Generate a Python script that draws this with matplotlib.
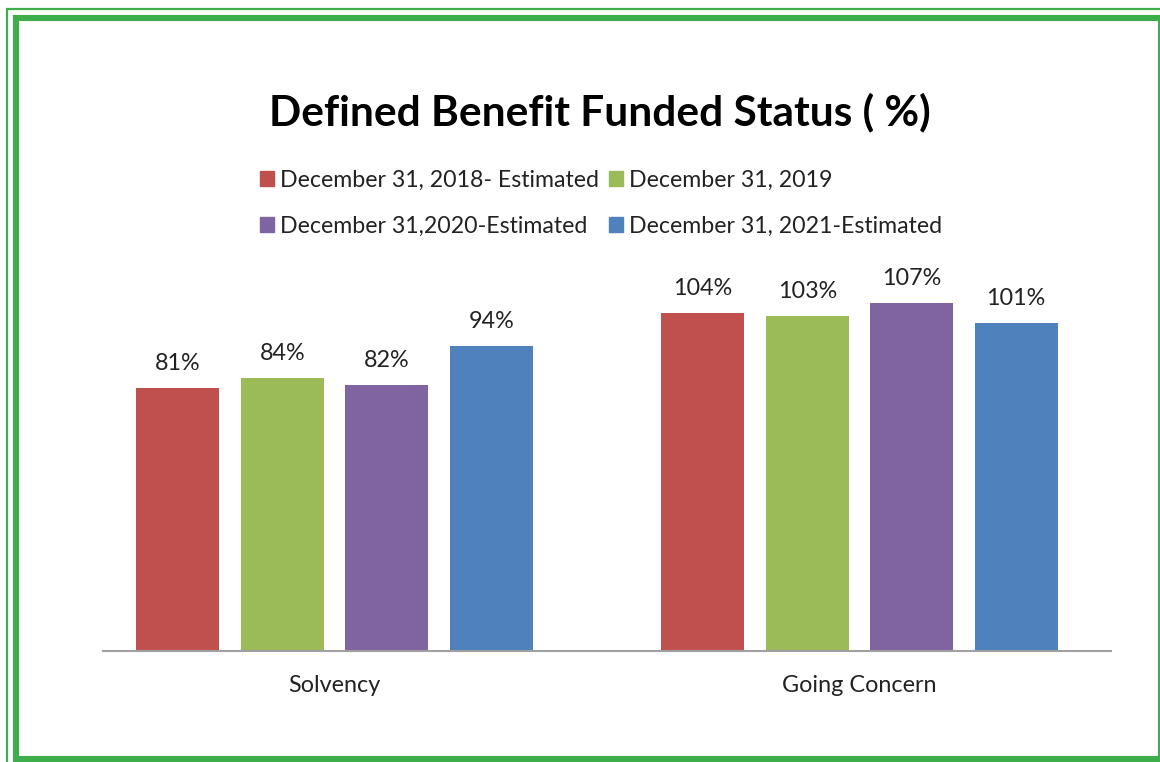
import matplotlib.pyplot as plt
from matplotlib.patches import Rectangle, Patch

categories = ['Solvency', 'Going Concern']
series_names = ['December 31, 2018- Estimated', 'December 31, 2019',
                'December 31,2020-Estimated', 'December 31, 2021-Estimated']
values_2018 = [81, 104]
values_2019 = [84, 103]
values_2020 = [82, 107]
values_2021 = [94, 101]
colors = ['#C0504D', '#9BBB59', '#8064A2', '#4F81BD']

plt.rcParams['font.family'] = ['Lato', 'DejaVu Sans']

W, H = 1160, 762
fig = plt.figure(figsize=(W / 100, H / 100), dpi=100)

# axes placed in pixel terms: baseline at y=651, 3.25 px per percent
ymax = 120
bottom_px = 651
top_px = bottom_px - 3.25 * ymax
ax = fig.add_axes([103 / W, 1 - bottom_px / H, (1111 - 103) / W, (bottom_px - top_px) / H])

all_series = [values_2018, values_2019, values_2020, values_2021]
step = 104.5 / 525
width = 83 / 525
x = list(range(len(categories)))
for i, vals in enumerate(all_series):
    off = (i - 1.5) * step
    b = ax.bar([xi + off for xi in x], vals, width=width, color=colors[i], label=series_names[i])
    ax.bar_label(b, labels=[f'{v}%' for v in vals], padding=10, fontsize=16.8, color='#222222')

ax.set_xlim(-231.5 / 525, 776.5 / 525)
ax.set_ylim(0, ymax)
for s in ['top', 'right', 'left']:
    ax.spines[s].set_visible(False)
ax.spines['bottom'].set_color('#a0a0a0')
ax.spines['bottom'].set_linewidth(1.5)
ax.set_yticks([])
ax.set_xticks(x)
ax.set_xticklabels(categories, fontsize=16.8, color='#222222')
ax.tick_params(axis='x', length=0, pad=17.5)

fig.text(600 / W, 1 - 112 / H, 'Defined Benefit Funded Status ( %)', ha='center', va='center',
         fontsize=30.5, fontweight='bold', color='black')

# legend: column-first order so rows read 2018,2019 / 2020,2021
order = [0, 2, 1, 3]
handles = [Patch(color=colors[i]) for i in order]
labels = [series_names[i] for i in order]
fig.legend(handles, labels, ncol=2, frameon=False, fontsize=16.7,
           loc='upper left', bbox_to_anchor=(248 / W, 1 - 158 / H),
           handlelength=0.6, handleheight=0.6, handletextpad=0.26,
           columnspacing=0.47, labelspacing=1.08, borderpad=0, labelcolor='#222222')

# green double border
green = '#3DAE49'
fig.patches.append(Rectangle((7 / W, -0.1), 1.2, 1 - 9 / H + 0.1, transform=fig.transFigure,
                             fill=False, edgecolor=green, linewidth=1.6))
fig.patches.append(Rectangle((16 / W, 1 - 759 / H), (1161 - 16) / W, (759 - 18) / H,
                             transform=fig.transFigure, fill=False, edgecolor=green, linewidth=4.4))

fig.savefig('out.png', dpi=100)
